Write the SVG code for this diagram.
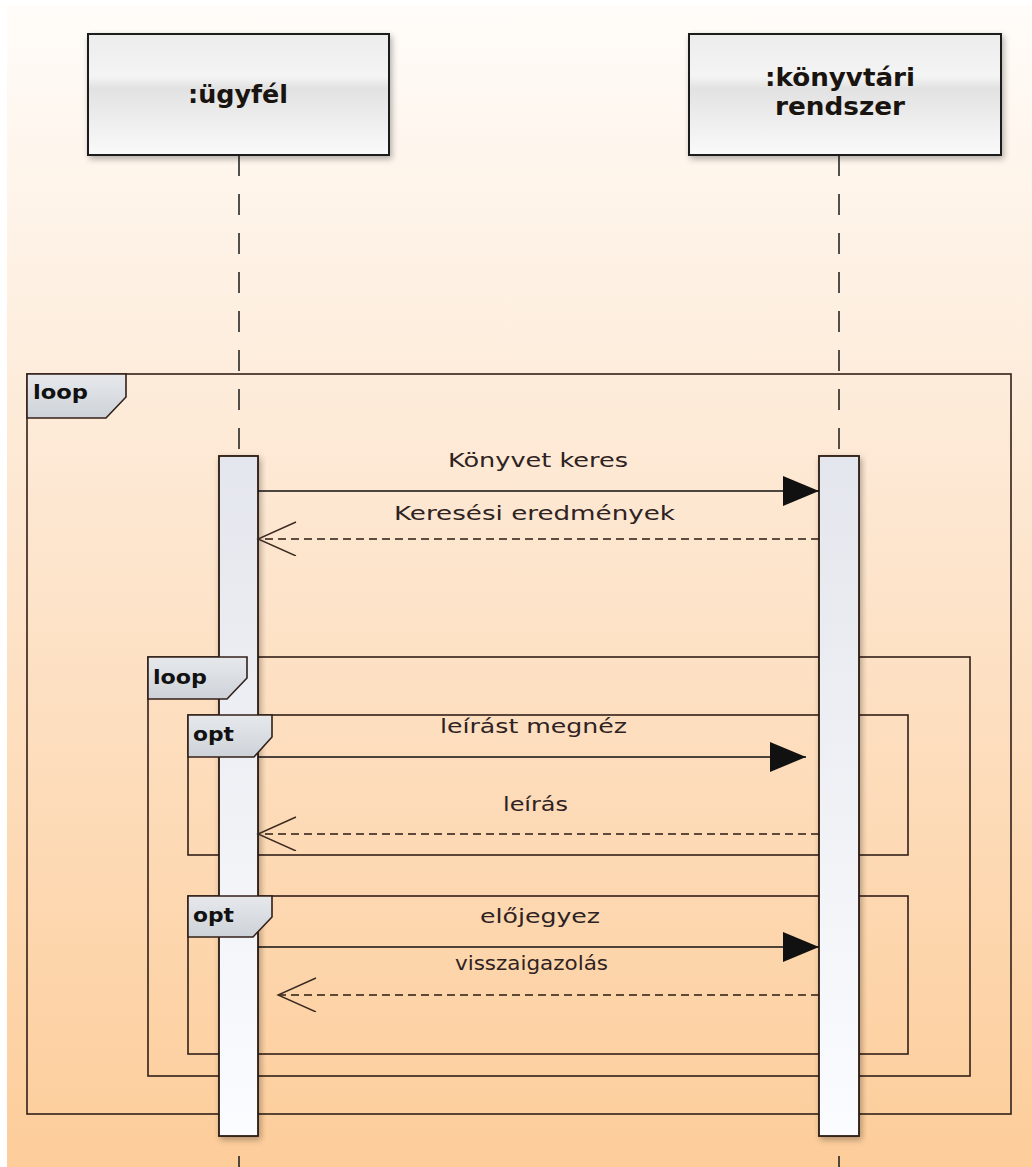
<svg xmlns="http://www.w3.org/2000/svg" width="1032" height="1167" viewBox="0 0 1032 1167">
<defs>
<linearGradient id="bg" x1="0" y1="0" x2="0" y2="1">
<stop offset="0" stop-color="#fffcf9"/>
<stop offset="0.45" stop-color="#fde6cf"/>
<stop offset="1" stop-color="#fdcd9a"/>
</linearGradient>
<linearGradient id="head" x1="0" y1="0" x2="0" y2="1">
<stop offset="0" stop-color="#ececec"/>
<stop offset="0.35" stop-color="#f4f4f4"/>
<stop offset="0.45" stop-color="#e2e2e2"/>
<stop offset="1" stop-color="#fafafa"/>
</linearGradient>
<linearGradient id="act" x1="0" y1="0" x2="0" y2="1">
<stop offset="0" stop-color="#e3e6ec"/>
<stop offset="1" stop-color="#fbfcff"/>
</linearGradient>
<linearGradient id="tag" x1="0" y1="0" x2="0" y2="1">
<stop offset="0" stop-color="#e6e8eb"/>
<stop offset="0.5" stop-color="#dadee3"/>
<stop offset="1" stop-color="#cdd2d8"/>
</linearGradient>
<filter id="sh" x="-20%" y="-20%" width="140%" height="140%">
<feDropShadow dx="2" dy="3" stdDeviation="3" flood-color="#000" flood-opacity="0.3"/>
</filter>
<marker id="filled" markerUnits="userSpaceOnUse" markerWidth="40" markerHeight="34" refX="36" refY="15" orient="auto">
<path d="M0,0 L36,15 L0,30 Z" fill="#111"/>
</marker>
<marker id="open" markerUnits="userSpaceOnUse" markerWidth="42" markerHeight="38" refX="39" refY="17" orient="auto">
<path d="M1,0 L39,17 L1,34" fill="none" stroke="#3a2a20" stroke-width="1.4"/>
</marker>
</defs>
<style>
.head{fill:url(#head);stroke:#1e1e1e;stroke-width:2}
.life{stroke:#1a1a1a;stroke-width:1.5;stroke-dasharray:21 18;fill:none}
.act{fill:url(#act);stroke:#2a1a12;stroke-width:1.8}
.frame{fill:none;stroke:#33201a;stroke-width:1.6}
.tag{fill:url(#tag);stroke:#33201a;stroke-width:1.6}
.ht{font-family:"DejaVu Sans",Verdana,sans-serif;font-weight:bold;font-size:24px;fill:#1a1410}
.tt{font-family:"DejaVu Sans",Verdana,sans-serif;font-weight:bold;font-size:19px;fill:#111}
.ml{font-family:"DejaVu Sans",Verdana,sans-serif;font-size:20px;fill:#2e2222}
.sync{stroke:#111;stroke-width:1.6;fill:none}
.reply{stroke:#2a1a12;stroke-width:1.6;stroke-dasharray:8 5;fill:none}
</style>
<rect x="0" y="0" width="1032" height="1167" fill="#ffffff"/>
<rect x="7" y="5" width="1025" height="1162" fill="url(#bg)"/>

<g id="frames">
<rect id="frame-loop-outer" class="frame" x="27" y="374" width="984" height="740"/>
<rect id="frame-loop-inner" class="frame" x="148" y="657" width="822" height="419"/>
<rect id="frame-opt-1" class="frame" x="188" y="715" width="720" height="140"/>
<rect id="frame-opt-2" class="frame" x="188" y="896" width="720" height="158"/>
</g>

<g id="client">
<rect class="head" x="88" y="34" width="301" height="121" filter="url(#sh)"/>
<text class="ht" x="188" y="103" textLength="100" lengthAdjust="spacingAndGlyphs">:ügyfél</text>
<line class="life" x1="239" y1="155" x2="239" y2="456"/>
<line class="life" x1="239" y1="1156" x2="239" y2="1167"/>
<rect class="act" x="219" y="456" width="39" height="680" filter="url(#sh)"/>
</g>

<g id="system">
<rect class="head" x="689" y="34" width="312" height="121" filter="url(#sh)"/>
<text class="ht" x="765" y="86" textLength="150" lengthAdjust="spacingAndGlyphs">:könyvtári</text>
<text class="ht" x="775" y="115" textLength="130" lengthAdjust="spacingAndGlyphs">rendszer</text>
<line class="life" x1="839" y1="155" x2="839" y2="456"/>
<line class="life" x1="839" y1="1156" x2="839" y2="1167"/>
<rect class="act" x="819" y="456" width="40" height="680" filter="url(#sh)"/>
</g>

<g id="tags">
<g id="tag-loop-outer">
<polygon class="tag" points="27,374 126,374 126,397 106,418 27,418"/>
<text class="tt" x="33" y="399" textLength="55" lengthAdjust="spacingAndGlyphs">loop</text>
</g>
<g id="tag-loop-inner">
<polygon class="tag" points="148,657 247,657 247,678 227,699 148,699"/>
<text class="tt" x="153" y="684" textLength="54" lengthAdjust="spacingAndGlyphs">loop</text>
</g>
<g id="tag-opt-1">
<polygon class="tag" points="188,715 272,715 272,737 254,757 188,757"/>
<text class="tt" x="193" y="741" textLength="41" lengthAdjust="spacingAndGlyphs">opt</text>
</g>
<g id="tag-opt-2">
<polygon class="tag" points="188,896 272,896 272,917 253,937 188,937"/>
<text class="tt" x="193" y="922" textLength="41" lengthAdjust="spacingAndGlyphs">opt</text>
</g>
</g>

<g id="connectors">
<line class="sync" x1="258" y1="491" x2="819" y2="491" marker-end="url(#filled)"/>
<text class="ml" x="448" y="467" textLength="180" lengthAdjust="spacingAndGlyphs">Könyvet keres</text>
<line class="reply" x1="819" y1="539" x2="258" y2="539" marker-end="url(#open)"/>
<text class="ml" x="394" y="520" textLength="281" lengthAdjust="spacingAndGlyphs">Keresési eredmények</text>
<line class="sync" x1="258" y1="757" x2="806" y2="757" marker-end="url(#filled)"/>
<text class="ml" x="440" y="733" textLength="187" lengthAdjust="spacingAndGlyphs">leírást megnéz</text>
<line class="reply" x1="819" y1="834" x2="258" y2="834" marker-end="url(#open)"/>
<text class="ml" x="503" y="811" textLength="65" lengthAdjust="spacingAndGlyphs">leírás</text>
<line class="sync" x1="258" y1="947" x2="819" y2="947" marker-end="url(#filled)"/>
<text class="ml" x="480" y="923" textLength="120" lengthAdjust="spacingAndGlyphs">előjegyez</text>
<line class="reply" x1="819" y1="995" x2="278" y2="995" marker-end="url(#open)"/>
<text class="ml" x="455" y="970" textLength="153" lengthAdjust="spacingAndGlyphs">visszaigazolás</text>
</g>
</svg>
